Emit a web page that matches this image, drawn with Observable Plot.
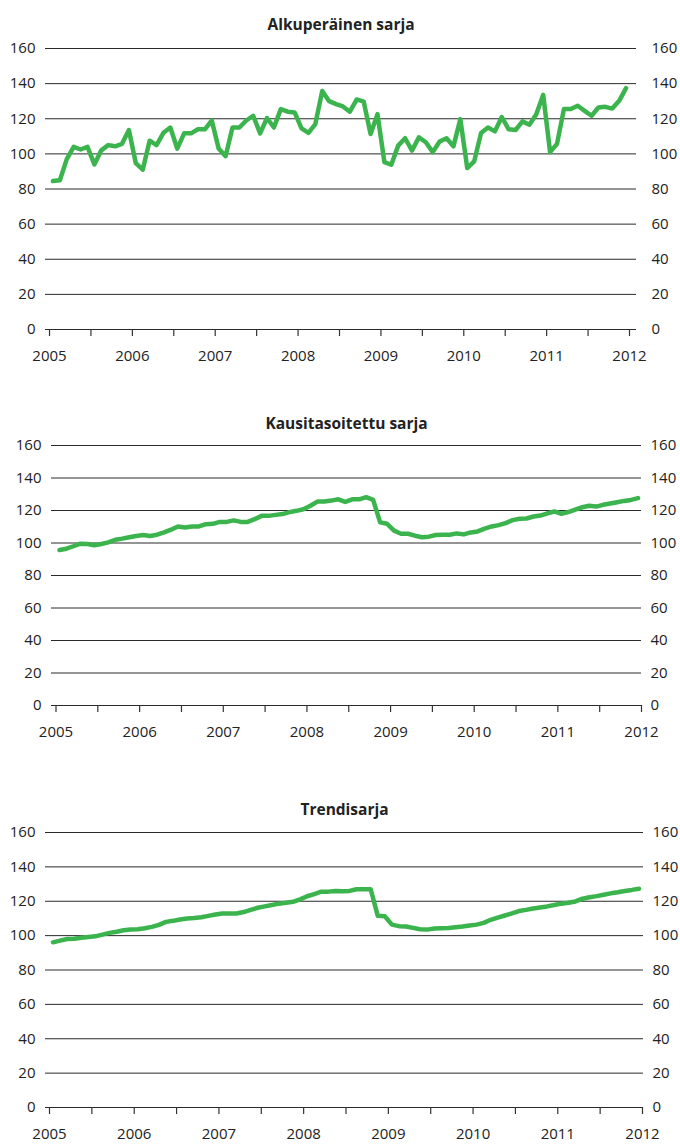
<!DOCTYPE html>
<html>
<head>
<meta charset="utf-8">
<script src="https://cdn.jsdelivr.net/npm/d3@7"></script>
<script src="https://cdn.jsdelivr.net/npm/@observablehq/plot@0.6"></script>
<style>
  html, body { margin: 0; padding: 0; background: #fff; }
  #chart svg { display: block; }
</style>
</head>
<body>
<div id="chart"></div>
<script>
// ---- data (monthly, 2005-01 .. 2011-12) ----
const startYear = 2005;
const titles = ["Alkuperäinen sarja", "Kausitasoitettu sarja", "Trendisarja"];

const alkuperainen = [
  84.5, 85, 97, 104, 102.5, 104, 94, 102, 105, 104.3, 105.7, 113.6,
  94.7, 91, 107.5, 105, 112, 115, 103, 111.7, 111.7, 114, 114, 119,
  103, 98.7, 115, 115, 119, 121.7, 111.7, 120.4, 115, 125.5, 124, 123.6,
  114.5, 112, 117, 135.8, 130, 128.3, 127, 124, 131, 129.8, 111.3, 122.6,
  95.3, 93.8, 104.7, 108.9, 101.9, 109.4, 106.6, 101, 107, 108.9, 104.3, 119.8,
  91.9, 95.7, 111.9, 115, 112.8, 121, 114, 113.6, 118.5, 116.6, 122.6, 133.6,
  101, 105.7, 125.5, 125.5, 127.4, 124.5, 121.7, 126.4, 126.8, 125.8, 130.2, 137.4
];

const kausitasoitettu = [
  95.7, 96.5, 98, 99.6, 99.4, 98.6, 99.4, 100.4, 102, 102.7, 103.5, 104.3,
  104.9, 104.3, 105.1, 106.5, 108.2, 110.2, 109.6, 110.2, 110.2, 111.6, 111.8, 113,
  113, 113.9, 113, 113, 114.7, 116.7, 116.7, 117.3, 117.8, 119, 119.8, 120.8,
  122.9, 125.5, 125.5, 126.1, 126.9, 125.3, 126.9, 126.9, 128.2, 126.5, 112.7, 111.8,
  107.6, 105.7, 105.7, 104.5, 103.5, 103.9, 104.9, 105.1, 105.1, 105.9, 105.3, 106.5,
  107.1, 108.8, 110.2, 111, 112.2, 114.1, 114.9, 115.1, 116.3, 116.9, 118.2, 119.4,
  118, 119, 120.6, 122, 122.9, 122.4, 123.5, 124.3, 125.1, 125.9, 126.5, 127.6
];

const trendi = [
  96.1, 97.1, 98, 98.2, 98.8, 99.2, 99.6, 100.6, 101.6, 102.3, 103.1, 103.5,
  103.7, 104.3, 105.1, 106.3, 108, 108.6, 109.4, 110, 110.2, 110.7, 111.5, 112.3,
  112.9, 112.9, 112.9, 113.7, 115, 116.2, 117, 117.8, 118.6, 119.1, 119.7, 121.1,
  122.9, 124.2, 125.6, 125.6, 126, 125.8, 126, 127, 127, 127, 111.5, 111.3,
  106.4, 105.5, 105.3, 104.5, 103.7, 103.5, 104.1, 104.3, 104.5, 104.9, 105.3, 105.9,
  106.4, 107.4, 109.2, 110.5, 111.7, 112.9, 114.3, 115, 115.8, 116.4, 117, 117.8,
  118.6, 119.1, 119.9, 121.5, 122.3, 123, 123.8, 124.6, 125.2, 126, 126.6, 127.3
];

const xTicks = [2005, 2005.5, 2006, 2006.5, 2007, 2007.5, 2008, 2008.5,
                2009, 2009.5, 2010, 2010.5, 2011, 2011.5, 2012];
const yTicks = [0, 20, 40, 60, 80, 100, 120, 140, 160];

// ---- layout per panel ----
const layouts = [
  {height: 380, marginTop: 48, marginBottom: 51, marginLeft: 45, marginRight: 44,
   domain: [2004.9517, 2012.0845], titleDy: -23, rightPad: 15},
  {height: 380, marginTop: 65, marginBottom: 55, marginLeft: 51, marginRight: 39,
   domain: [2004.9462, 2012.0], titleDy: -21, rightPad: 9},
  {height: 384, marginTop: 72, marginBottom: 37, marginLeft: 45, marginRight: 37,
   domain: [2004.9528, 2012.0118], titleDy: -22, rightPad: 9}
];
const seriesList = [alkuperainen, kausitasoitettu, trendi];

const green = "#3bb44e";
const ink = "#222";

function panel(values, title, L) {
  const rows = values.map((v, i) => ({
    t: startYear + Math.floor(i / 12) + ((i % 12) + 0.5) / 12,
    v
  }));
  return Plot.plot({
    width: 680,
    height: L.height,
    marginTop: L.marginTop,
    marginBottom: L.marginBottom,
    marginLeft: L.marginLeft,
    marginRight: L.marginRight,
    style: {fontFamily: "'Open Sans', sans-serif", fontSize: "15px", color: ink, background: "#fff"},
    x: {type: "linear", domain: L.domain},
    y: {domain: [0, 160]},
    marks: [
      Plot.gridY(yTicks, {stroke: "#2a2a2a", strokeOpacity: 1, strokeWidth: 1}),
      Plot.axisY(yTicks, {anchor: "left", tickSize: 0, tickPadding: 10, label: null, fontSize: 15}),
      Plot.axisY(yTicks, {anchor: "right", tickSize: 0, tickPadding: L.rightPad, label: null, fontSize: 15}),
      Plot.axisX(xTicks, {
        anchor: "bottom", tickSize: 7, tickPadding: 14, label: null,
        stroke: "#333", strokeWidth: 1.2, fontSize: 15,
        tickFormat: d => Number.isInteger(d) ? String(d) : ""
      }),
      Plot.line(rows, {x: "t", y: "v", stroke: green, strokeWidth: 4.5,
                       strokeLinejoin: "round", strokeLinecap: "round"}),
      Plot.text([title], {frameAnchor: "top", lineAnchor: "middle", dy: L.titleDy, text: d => d,
                          fontWeight: "bold", fontSize: 15.5, fill: ink})
    ]
  });
}

const root = document.getElementById("chart");
seriesList.forEach((vals, k) => root.appendChild(panel(vals, titles[k], layouts[k])));
</script>
</body>
</html>
